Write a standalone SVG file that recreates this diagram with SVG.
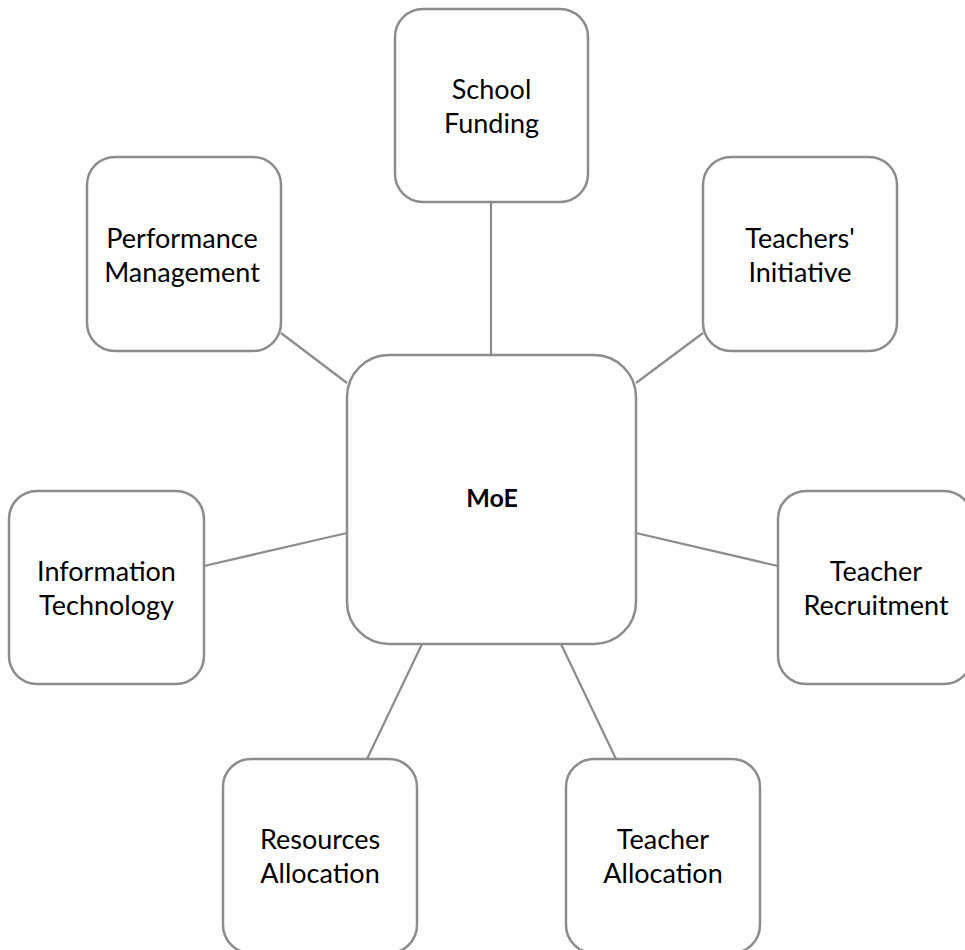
<svg xmlns="http://www.w3.org/2000/svg" width="965" height="950" viewBox="0 0 965 950">
<style>
.box{fill:#fff;stroke:#8c8c8c;stroke-width:2.5}
.lbl{font-family:Lato,"Open Sans","Liberation Sans",sans-serif;font-size:27px;fill:#000;text-anchor:middle}
.main{font-family:Lato,"Open Sans","Liberation Sans",sans-serif;font-size:25px;font-weight:bold;fill:#000;text-anchor:middle}
.con line{stroke:#8c8c8c;stroke-width:2.2}
</style>
<rect width="965" height="950" fill="#fff"/>
<g id="connectors" class="con">
<line x1="491" y1="202" x2="491" y2="355"/>
<line x1="281" y1="333" x2="347" y2="383"/>
<line x1="703" y1="333" x2="636" y2="383"/>
<line x1="204" y1="566" x2="347" y2="533"/>
<line x1="636" y1="533" x2="778" y2="566"/>
<line x1="422" y1="644" x2="367" y2="759"/>
<line x1="561" y1="644" x2="616" y2="759"/>
</g>
<g id="moe"><rect class="box" x="347" y="355" width="289" height="289" rx="42"/><text class="main" x="492" y="507">MoE</text></g>
<g id="school-funding"><rect class="box" x="395" y="9" width="193" height="193" rx="28"/><text class="lbl" x="491.5" y="99">School</text><text class="lbl" x="491.5" y="133">Funding</text></g>
<g id="performance-management"><rect class="box" x="87" y="157" width="194" height="194" rx="28"/><text class="lbl" x="182" y="248">Performance</text><text class="lbl" x="182" y="282">Management</text></g>
<g id="teachers-initiative"><rect class="box" x="703" y="157" width="194" height="194" rx="28"/><text class="lbl" x="800" y="248">Teachers'</text><text class="lbl" x="800" y="282">Initiative</text></g>
<g id="information-technology"><rect class="box" x="9" y="491" width="195" height="193" rx="28"/><text class="lbl" x="106.5" y="581">Information</text><text class="lbl" x="106.5" y="615">Technology</text></g>
<g id="teacher-recruitment"><rect class="box" x="778" y="491" width="194" height="193" rx="28"/><text class="lbl" x="876" y="581">Teacher</text><text class="lbl" x="876" y="615">Recruitment</text></g>
<g id="resources-allocation"><rect class="box" x="223" y="759" width="194" height="194" rx="28"/><text class="lbl" x="320" y="849">Resources</text><text class="lbl" x="320" y="883">Allocation</text></g>
<g id="teacher-allocation"><rect class="box" x="566" y="759" width="194" height="194" rx="28"/><text class="lbl" x="663" y="849">Teacher</text><text class="lbl" x="663" y="883">Allocation</text></g>
</svg>
